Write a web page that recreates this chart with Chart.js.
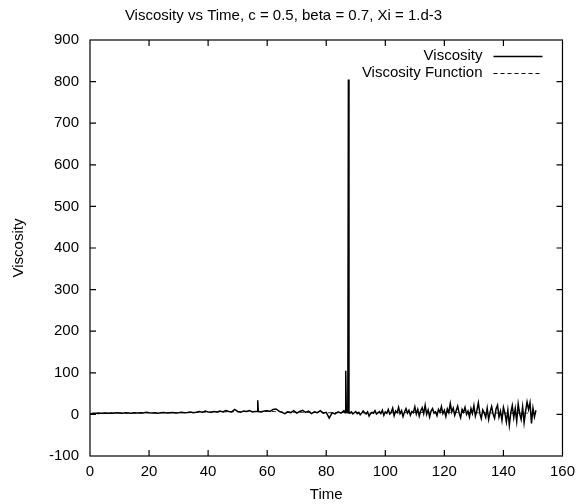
<!DOCTYPE html>
<html>
<head>
<meta charset="utf-8">
<script src="https://cdn.jsdelivr.net/npm/chart.js@4"></script>
<style>
  html, body { margin: 0; padding: 0; background: #fff; }
  #wrap { width: 582px; height: 504px; }
</style>
</head>
<body>
<div id="wrap"><canvas id="c" width="582" height="504"></canvas></div>
<script>
// Sample times (simulation time units)
const times = [
  0, 1, 2, 3, 4, 5, 6, 7, 8, 9, 10, 11, 12, 13, 14, 15, 16, 17, 18, 19,
  20, 21, 22, 23, 24, 25, 26, 27, 28, 29, 30, 31, 32, 33, 34, 35, 36, 37, 38, 39,
  40, 41, 42, 43, 44, 45, 46, 47, 48, 49, 50, 51, 52, 53, 54, 55, 56, 56.6, 56.8, 57, 58, 59,
  60, 61, 62, 63, 64, 65, 66, 67, 68, 69, 70, 71, 72, 73, 74, 75, 76, 77, 78, 79,
  80, 81, 82, 83, 84, 85, 86, 86.4, 86.6, 86.8, 87.3, 87.5, 87.7,
  88, 88.5, 89, 89.5, 90, 90.5, 91, 91.5, 92, 92.5,
  93, 93.5, 94, 94.5, 95, 95.5, 96, 96.5, 97, 97.5,
  98, 98.5, 99, 99.5, 100, 100.5, 101, 101.5, 102, 102.5,
  103, 103.5, 104, 104.5, 105, 105.5, 106, 106.5, 107, 107.5,
  108, 108.5, 109, 109.5, 110, 110.5, 111, 111.5, 112, 112.5,
  113, 113.5, 114, 114.5, 115, 115.5, 116, 116.5, 117, 117.5,
  118, 118.5, 119, 119.5, 120, 120.5, 121, 121.5, 122, 122.5,
  123, 123.5, 124, 124.5, 125, 125.5, 126, 126.5, 127, 127.5,
  128, 128.5, 129, 129.5, 130, 130.5, 131, 131.5, 132, 132.5,
  133, 133.5, 134, 134.5, 135, 135.5, 136, 136.5, 137, 137.5,
  138, 138.5, 139, 139.5, 140, 140.5, 141, 141.5, 142, 142.5,
  143, 143.5, 144, 144.5, 145, 145.5, 146, 146.5, 147, 147.5,
  148, 148.5, 149, 149.5, 150, 150.5, 151
];

// Measured viscosity at each sample time
const viscosity = [
  0, 3, 3, 3.5, 3, 3.5, 3, 3.5, 3, 4, 3.5, 3, 4, 3.5, 3, 4, 3.5, 4, 3.5, 5,
  4, 3.5, 4, 3, 4, 4.5, 3.5, 4, 4.5, 3.5, 4, 5, 4, 4.5, 6, 4, 5, 7, 5, 8,
  6, 5, 7, 6, 8, 6, 9, 7, 6, 12, 7, 5, 8, 7, 9, 6, 7, 7, 34, 7, 6, 8,
  9, 7, 12, 13, 8, 5, 2, 6, 4, 9, 3, 7, 10, 5, 8, 2, 6, 4, 9, 3,
  5, -9, 4, 1, 6, 3, 9, 4, 105, 6, 4, 805, 5,
  3, 6, 1, 4, 7, 2, 5, -1, 3, 8,
  4, 1, 6, -4, 2, 5, 3, 9, 1, 4,
  7, 2, 10, -2, 6, 3, 12, 1, 5, 15,
  -3, 8, 4, 17, 2, 9, -5, 6, 14, 3,
  10, -2, 7, 4, 18, 1, 12, -4, 9, 16,
  2, 22, 0, 11, -6, 8, 14, 3, 6, -3,
  12, 5, 19, 2, 10, -5, 13, 4, 26, 6,
  15, -2, 9, 20, 3, -8, 12, 5, 17, 0,
  8, -6, 14, 2, 21, -4, 9, 28, 3, -10,
  11, 4, -7, 15, -12, 6, 19, 1, -9, 13,
  22, -6, 8, -14, 17, 3, -18, 10, -26, 4,
  21, -8, 14, -16, 25, 2, -12, 18, -20, 8,
  30, 12, 28, -22, 15, -6, 10
];

// Model viscosity function, coarser sampling
const fnTimes = [0, 5, 10, 15, 20, 25, 30, 35, 40, 45, 50, 55, 60, 65, 70, 75, 80, 85, 90, 95,
  100, 105, 110, 115, 120, 125, 130, 135, 140, 145, 150];
const viscosityFunction = [0, 3, 3.5, 3.5, 4, 4, 4, 4.5, 5.5, 6, 6.5, 7, 7.5, 6, 5, 5, 4, 4.5, 4, 3.5,
  4, 4, 4.5, 5, 5, 4.5, 4, 3.5, 3, 3, 3];

const seriesLabels = ['Viscosity', 'Viscosity Function'];
const chartTitle = 'Viscosity vs Time, c = 0.5, beta = 0.7, Xi = 1.d-3';
const xTitle = 'Time';
const yTitle = 'Viscosity';
const xRange = [0, 160], xStep = 20;
const yRange = [-100, 900], yStep = 100;

const FONT = '"Liberation Sans", Arial, Helvetica, sans-serif';
const FS = 15;

const pts = (xs, ys) => xs.map((x, i) => ({ x, y: ys[i] }));

// Frame with inward tick marks on all four sides, plus a gnuplot-style key
const framePlugin = {
  id: 'frame',
  afterDatasetsDraw(chart) {
    const { ctx, chartArea: a, scales } = chart;
    const len = 6;
    ctx.save();
    ctx.strokeStyle = '#000';
    ctx.lineWidth = 1.2;
    ctx.strokeRect(a.left, a.top, a.right - a.left, a.bottom - a.top);
    ctx.beginPath();
    scales.x.ticks.forEach(t => {
      const px = scales.x.getPixelForValue(t.value);
      if (px <= a.left + 1 || px >= a.right - 1) return;
      ctx.moveTo(px, a.bottom); ctx.lineTo(px, a.bottom - len);
      ctx.moveTo(px, a.top); ctx.lineTo(px, a.top + len);
    });
    scales.y.ticks.forEach(t => {
      const py = scales.y.getPixelForValue(t.value);
      if (py <= a.top + 1 || py >= a.bottom - 1) return;
      ctx.moveTo(a.left, py); ctx.lineTo(a.left + len, py);
      ctx.moveTo(a.right, py); ctx.lineTo(a.right - len, py);
    });
    ctx.stroke();

    // key
    ctx.font = FS + 'px ' + FONT;
    ctx.fillStyle = '#000';
    ctx.textAlign = 'right';
    ctx.textBaseline = 'middle';
    chart.data.datasets.forEach((ds, i) => {
      const y = a.top + 16 + i * 17;
      ctx.fillText(ds.label, a.right - 80, y);
      ctx.beginPath();
      ctx.lineWidth = ds.borderWidth;
      ctx.setLineDash(ds.borderDash || []);
      ctx.moveTo(a.right - 69, y + 0.5);
      ctx.lineTo(a.right - 20, y + 0.5);
      ctx.stroke();
      ctx.setLineDash([]);
    });
    ctx.restore();
  }
};

new Chart(document.getElementById('c'), {
  type: 'line',
  data: {
    datasets: [
      {
        label: seriesLabels[0],
        data: pts(times, viscosity),
        borderColor: '#000',
        borderWidth: 1.5,
        pointRadius: 0,
        tension: 0,
        fill: false
      },
      {
        label: seriesLabels[1],
        data: pts(fnTimes, viscosityFunction),
        borderColor: '#333',
        borderWidth: 1,
        borderDash: [4, 3],
        pointRadius: 0,
        tension: 0,
        fill: false
      }
    ]
  },
  options: {
    responsive: false,
    animation: false,
    devicePixelRatio: 1,
    layout: { padding: { left: 0, right: 15, top: 0, bottom: 0 } },
    plugins: {
      legend: { display: false },
      tooltip: { enabled: false },
      title: {
        display: true,
        text: chartTitle,
        color: '#000',
        font: { family: FONT, size: FS, weight: 'normal' },
        padding: { top: 7, bottom: 15 }
      }
    },
    scales: {
      x: {
        type: 'linear',
        min: xRange[0], max: xRange[1],
        ticks: {
          stepSize: xStep,
          color: '#000',
          font: { family: FONT, size: FS },
          padding: 7,
          maxRotation: 0
        },
        grid: { display: false, drawTicks: false },
        border: { display: false },
        title: {
          display: true, text: xTitle, color: '#000',
          font: { family: FONT, size: FS },
          padding: { top: 0, bottom: 0 }
        },
        afterFit(s) { s.height = 48; }
      },
      y: {
        type: 'linear',
        min: yRange[0], max: yRange[1],
        ticks: {
          stepSize: yStep,
          color: '#000',
          font: { family: FONT, size: FS },
          padding: 11
        },
        grid: { display: false, drawTicks: false },
        border: { display: false },
        title: {
          display: true, text: yTitle, color: '#000',
          font: { family: FONT, size: FS },
          padding: { top: 10, bottom: 0 }
        },
        afterFit(s) { s.width = 90; }
      }
    }
  },
  plugins: [framePlugin]
});
</script>
</body>
</html>
